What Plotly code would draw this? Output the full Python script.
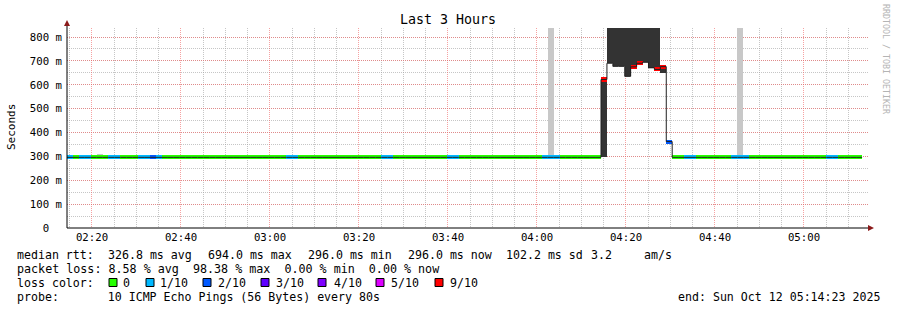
import plotly.graph_objects as go
from datetime import datetime, timedelta

# ---------------- data ----------------
START = datetime(2025, 10, 12, 2, 14, 23)
END = datetime(2025, 10, 12, 5, 14, 23)
STEP_S = 80

# median rtt (ms) per 80 s step
median_ms = [
    296, 296, 296, 296, 296, 296, 296, 296, 296, 296,
    296, 296, 296, 296, 296, 296, 296, 296, 296, 296,
    296, 296, 296, 296, 296, 296, 296, 296, 296, 296,
    296, 296, 296, 296, 296, 296, 296, 296, 296, 296,
    296, 296, 296, 296, 296, 296, 296, 296, 296, 296,
    296, 296, 296, 296, 296, 296, 296, 296, 296, 296,
    296, 296, 296, 296, 296, 296, 296, 296, 296, 296,
    296, 296, 296, 296, 296, 296, 296, 296, 296, 296,
    296, 296, 296, 296, 296, 296, 296, 296, 296, 296,
    622, 690, 677, 677, 635, 675, 690, 694, 671, 664,
    676, 362, 296, 296, 296, 296, 296, 296, 296, 296,
    296, 296, 296, 296, 296, 296, 296, 296, 296, 296,
    296, 296, 296, 296, 296, 296, 296, 296, 296, 296,
    296, 296, 296, 296,
]
# lost pings out of 10 per step (10 = beyond the 9/10 bucket, no colour band)
loss = [
    1, 0, 1, 1, 0, 0, 0, 1, 1, 0,
    0, 0, 1, 1, 2, 1, 0, 0, 0, 0,
    0, 0, 0, 0, 0, 0, 0, 0, 0, 0,
    0, 0, 0, 0, 0, 0, 0, 1, 1, 0,
    0, 0, 0, 0, 0, 0, 0, 0, 0, 0,
    0, 0, 0, 1, 1, 0, 0, 0, 0, 0,
    0, 0, 0, 0, 1, 1, 0, 0, 0, 0,
    0, 0, 0, 0, 0, 0, 0, 0, 0, 0,
    1, 1, 1, 0, 0, 0, 0, 0, 0, 0,
    9, 10, 10, 10, 10, 9, 9, 10, 10, 9,
    9, 2, 0, 0, 1, 1, 0, 0, 0, 0,
    0, 0, 1, 1, 1, 0, 0, 0, 0, 0,
    0, 0, 0, 0, 0, 0, 0, 0, 1, 1,
    0, 0, 0, 0,
]

# smoke (ping spread) per step
smoke_step = [5, 81, 113, 90, 91, 92, 93, 94, 95, 96, 97, 98, 99, 100]
smoke_lo = [296, 296, 296, 296, 690, 677, 677, 635, 675, 690, 694, 671, 664, 650]
smoke_hi = [310, 838, 838, 625, 838, 838, 838, 838, 838, 838, 838, 838, 838, 680]
smoke_dense = [False, False, False, True, True, True, True, True, True, True, True, True, True, True]

loss_buckets = [0, 1, 2, 3, 4, 5, 9]
loss_labels = ["0", "1/10", "2/10", "3/10", "4/10", "5/10", "9/10"]
loss_colors = ["#26ff00", "#00b8ff", "#0059ff", "#5e00ff", "#7e00ff", "#dd00ff", "#ff0000"]

y_ticks = [0, 100, 200, 300, 400, 500, 600, 700, 800]
y_ticktext = ["0\u00a0\u00a0", "100 m", "200 m", "300 m", "400 m", "500 m", "600 m", "700 m", "800 m"]

rtt_items = ["median rtt:", "326.8 ms avg", "694.0 ms max", "296.0 ms min",
             "296.0 ms now", "102.2 ms sd", "3.2", "am/s"]
loss_line = "packet loss: 8.58 % avg  98.38 % max  0.00 % min  0.00 % now"
probe_line = "probe:       10 ICMP Echo Pings (56 Bytes) every 80s"
end_line = "end: Sun Oct 12 05:14:23 2025"

# ---------------- geometry helpers ----------------
W, H = 897, 310
L, R, T, B = 67, 868, 28, 228


def px(x):
    return (x - L) / (R - L)


def py(y):
    return (B - y) / (B - T)


MONO = "DejaVu Sans Mono"
BAND = 8.4  # half thickness of loss band in ms

step_start = [START + timedelta(seconds=STEP_S * k) for k in range(len(median_ms))]
step_mid = [s + timedelta(seconds=STEP_S / 2) for s in step_start]

fig = go.Figure()

# smoke
for dense, col in [(False, "#c8c8c8"), (True, "#333333")]:
    xs, bases, hs = [], [], []
    for s, lo, hi, d in zip(smoke_step, smoke_lo, smoke_hi, smoke_dense):
        if d == dense:
            xs.append(step_mid[s])
            bases.append(lo)
            hs.append(hi - lo)
    fig.add_trace(go.Bar(x=xs, y=hs, base=bases, width=STEP_S * 1000 * 1.02,
                         marker=dict(color=col, line=dict(width=0)), hoverinfo="skip"))

# median line
fig.add_trace(go.Scatter(x=step_start + [step_start[-1] + timedelta(seconds=STEP_S)],
                         y=median_ms + [median_ms[-1]], mode="lines",
                         line=dict(color="#202020", width=1, shape="hv"), hoverinfo="skip"))


# loss coloured bands
def bucket_of(l):
    for i, b in enumerate(loss_buckets):
        if l <= b:
            return i
    return None


for i, col in enumerate(loss_colors):
    xs, bases, hs = [], [], []
    for k, (m, l) in enumerate(zip(median_ms, loss)):
        if bucket_of(l) == i:
            xs.append(step_mid[k])
            bases.append(m - BAND)
            hs.append(2 * BAND)
    if xs:
        fig.add_trace(go.Bar(x=xs, y=hs, base=bases, width=STEP_S * 1000 * 1.02,
                             marker=dict(color=col, line=dict(width=0)), hoverinfo="skip"))

grid_major = "rgba(240,100,100,0.6)"
grid_minor = "rgba(160,160,160,0.6)"

fig.update_layout(
    width=W, height=H,
    margin=dict(l=L, r=W - R, t=T, b=H - B),
    paper_bgcolor="white", plot_bgcolor="white",
    barmode="overlay", bargap=0, showlegend=False,
    font=dict(family=MONO, size=10.7, color="#000000"),
)
fig.update_xaxes(
    type="date", range=[START, END],
    tick0="2025-10-12 00:00:00", dtick=20 * 60 * 1000, tickformat="%H:%M",
    showgrid=True, gridcolor=grid_major, griddash="1px,1px", gridwidth=1,
    minor=dict(dtick=5 * 60 * 1000, showgrid=True, gridcolor=grid_minor,
               griddash="1px,1px", gridwidth=1),
    showline=False, zeroline=False, ticks="", ticklabelstandoff=1,
    tickfont=dict(family=MONO, size=10.7),
)
fig.update_yaxes(
    range=[0, (B - T) / 0.23875],
    tickmode="array", tickvals=y_ticks, ticktext=y_ticktext,
    showgrid=True, gridcolor=grid_major, griddash="1px,1px", gridwidth=1,
    minor=dict(dtick=50, showgrid=True, gridcolor=grid_minor, griddash="1px,1px", gridwidth=1),
    showline=False, zeroline=False, ticks="", ticklabelstandoff=4,
    tickfont=dict(family=MONO, size=10.7),
)

shapes = [
    dict(type="line", xref="paper", yref="paper", x0=px(67), x1=px(869), y0=0, y1=0,
         line=dict(color="#000000", width=1), layer="above"),
    dict(type="line", xref="paper", yref="paper", x0=0, x1=0, y0=0, y1=py(24),
         line=dict(color="#000000", width=1), layer="above"),
    dict(type="path", xref="paper", yref="paper",
         path=f"M {px(868)} {py(225)} L {px(874)} {py(228)} L {px(868)} {py(231)} Z",
         fillcolor="#8b1a1a", line=dict(width=0), layer="above"),
    dict(type="path", xref="paper", yref="paper",
         path=f"M {px(64)} {py(26)} L {px(67)} {py(20)} L {px(70)} {py(26)} Z",
         fillcolor="#8b1a1a", line=dict(width=0), layer="above"),
]

box_x = [109, 146, 203, 261, 318, 376, 435]
label_x = [122, 159, 217, 275, 333, 390, 449]
for bx, col in zip(box_x, loss_colors):
    shapes.append(dict(type="rect", xref="paper", yref="paper",
                       x0=px(bx), x1=px(bx + 8), y0=py(286.5), y1=py(278.5),
                       fillcolor=col, line=dict(color="#000000", width=1)))
fig.update_layout(shapes=shapes)

ann = []


def nb(s):
    return s.replace(" ", "\u00a0")


def text_at(s, x, y, anchor="left", size=11.6, **kw):
    ann.append(dict(text=nb(s), x=px(x), y=py(y), xref="paper", yref="paper",
                    showarrow=False, font=dict(family=MONO, size=size, **kw),
                    xanchor=anchor, yanchor="middle", borderpad=0))


text_at("Last 3 Hours", 448, 19, anchor="center", size=13.3)
ann.append(dict(text="Seconds", x=px(11), y=py(127), xref="paper", yref="paper", textangle=-90,
                showarrow=False, font=dict(family=MONO, size=11), xanchor="center",
                yanchor="middle", borderpad=0))
ann.append(dict(text=nb("RRDTOOL / TOBI OETIKER"), x=px(886), y=py(59), xref="paper", yref="paper",
                textangle=90, showarrow=False, font=dict(family=MONO, size=8.3, color="#b4b4b4"),
                xanchor="center", yanchor="middle", borderpad=0))

rtt_x = [16, 107, 207, 307, 407, 505, 590, 643]
for s, xx in zip(rtt_items, rtt_x):
    text_at(s, xx, 254.5)
text_at(loss_line, 16, 268.5, size=11.7)
text_at("loss color:", 16, 282.5)
for lx, lab in zip(label_x, loss_labels):
    text_at(lab, lx, 282.5)
text_at(probe_line, 16, 296.5)
text_at(end_line, 881, 296.5, anchor="right")

fig.update_layout(annotations=ann)

fig.write_html("out.html")
